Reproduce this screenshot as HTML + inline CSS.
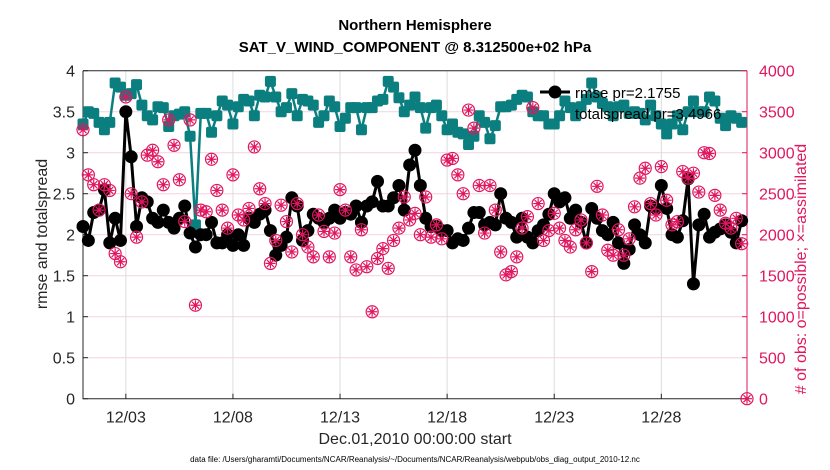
<!DOCTYPE html>
<html><head><meta charset="utf-8"><style>
body{margin:0;background:#fff;}
svg{display:block;font-family:"Liberation Sans",sans-serif;}
</style></head><body>
<svg id="chart" width="830" height="470"></svg>
<script>
const rmse=[2.1,1.93,2.27,2.3,2.55,1.9,2.2,1.93,3.5,2.95,2.1,2.45,2.4,2.2,2.15,2.3,2.15,2.08,2.2,2.35,2.02,1.85,2.0,2.0,2.15,1.9,1.9,2.0,1.87,2.0,1.87,2.2,2.15,2.25,2.3,2.05,1.75,1.87,1.97,2.45,2.35,1.93,2.05,2.25,2.2,2.15,2.2,2.3,2.2,2.27,2.25,2.35,2.15,2.35,2.4,2.65,2.35,2.35,2.45,2.6,2.3,2.85,3.03,2.6,2.2,2.1,2.1,2.05,2.05,1.9,1.95,1.93,2.08,2.27,2.27,2.12,2.15,2.12,2.5,2.2,2.15,1.97,2.2,1.97,1.9,2.05,2.12,2.25,2.5,2.4,2.45,2.2,2.3,2.15,1.9,2.32,2.2,2.05,2.0,2.15,1.9,1.65,1.82,2.12,2.0,1.9,2.35,2.32,2.6,2.32,2.0,1.97,2.17,2.68,1.4,2.12,2.25,1.97,2.03,2.07,2.12,2.03,1.9,2.17,null];
const spread=[3.35,3.5,3.48,3.37,3.28,3.37,3.85,3.8,3.7,3.72,3.83,3.58,3.45,3.4,3.56,3.55,3.32,3.45,3.47,3.5,3.2,2.12,3.48,3.48,3.25,3.45,3.63,3.58,3.35,3.56,3.65,3.63,3.45,3.7,3.68,3.87,3.68,3.5,3.55,3.72,3.45,3.65,3.63,3.58,3.37,3.45,3.63,3.56,3.32,3.42,3.55,3.55,3.28,3.55,3.55,3.63,3.65,3.87,3.8,3.67,3.5,3.58,3.68,3.55,3.3,3.55,3.58,3.45,3.28,3.35,3.25,3.23,3.1,3.2,3.45,3.37,3.17,3.33,3.56,3.56,3.58,3.65,3.7,3.68,3.5,3.45,3.45,3.35,3.35,3.45,3.63,3.55,3.45,3.56,3.65,3.85,3.68,3.6,3.56,3.45,3.56,3.58,3.48,3.5,3.48,3.4,3.58,3.45,3.35,3.23,3.35,3.45,3.28,3.5,3.63,3.5,3.5,3.68,3.63,3.42,3.33,3.45,3.42,3.37,null];
const nobs=[3280,2730,2610,2300,2610,2540,1770,1670,3680,2500,1970,2400,2970,3030,2890,2610,3400,3090,2670,2160,3400,1140,2300,2280,2920,2540,2300,2080,2730,2240,2180,2320,3070,2560,2380,1650,1930,2360,2160,1790,2380,2000,1850,1730,2240,2040,1730,2020,2550,2300,1730,1570,2060,1610,1060,1710,1830,1590,1930,2080,2460,2180,2260,2000,2460,1970,2120,1950,2910,2930,2730,2500,3520,3300,2600,2020,2600,2300,1790,1510,1550,1730,2080,2220,3550,2380,1930,2050,2260,2080,1930,1850,2060,2180,1900,1550,2590,2240,1810,1750,2060,1750,1950,2340,2690,2810,2380,2240,2830,2420,2120,2160,2770,2690,2750,2520,3000,2990,2480,2300,2140,2080,2200,1890,0];
const dayTicks=[2,7,12,17,22,27];
const dayLabels=["12/03","12/08","12/13","12/18","12/23","12/28"];
const leftTicks=[0,0.5,1,1.5,2,2.5,3,3.5,4];
const rightTicks=[0,500,1000,1500,2000,2500,3000,3500,4000];

const L=83,R=747,T=70.7,B=398.7;
const X=d=>L+(d/31)*(R-L);
const Y=v=>B-(v/4)*(B-T);
const YR=v=>B-(v/4000)*(B-T);
const svg=document.getElementById('chart');
const NS='http://www.w3.org/2000/svg';
function mk(tag,attrs,parent){const e=document.createElementNS(NS,tag);for(const k in attrs)e.setAttribute(k,attrs[k]);(parent||svg).appendChild(e);return e;}
const PINK='#e0165f';

leftTicks.forEach((t,i)=>{if(t>0&&t<4){const g=mk('line',{x1:L,x2:R,y1:Y(t),y2:Y(t),stroke:'#f2d3df','stroke-width':1});

}});
dayTicks.forEach(d=>{const g=mk('line',{x1:X(d),x2:X(d),y1:T,y2:B,stroke:'#dcdcdc','stroke-width':1});

});

const ax=mk('path',{d:`M${L},${T}V${B}H${R}M${L},${T}H${R}`,stroke:'#262626',fill:'none','stroke-width':1});


const rax=mk('line',{x1:R,x2:R,y1:T,y2:B,stroke:PINK,'stroke-width':1});



leftTicks.forEach(t=>{
 mk('line',{x1:L,x2:L+5,y1:Y(t),y2:Y(t),stroke:'#262626'});
 const tx=mk('text',{x:L-8,y:Y(t)+6,'text-anchor':'end','font-size':16,fill:'#262626'});tx.textContent=t;
 
 
});
rightTicks.forEach(t=>{
 mk('line',{x1:R,x2:R-5,y1:YR(t),y2:YR(t),stroke:PINK});
 const tx=mk('text',{x:R+12,y:YR(t)+6,'font-size':16,fill:PINK});tx.textContent=t;
 
 
});
dayTicks.forEach((d,i)=>{
 mk('line',{x1:X(d),x2:X(d),y1:B,y2:B-5,stroke:'#262626'});
 const tx=mk('text',{x:X(d),y:B+24,'text-anchor':'middle','font-size':16,fill:'#262626'});tx.textContent=dayLabels[i];
 
 
});

function pts(arr){return arr.map((v,i)=>v==null?null:[X(i/4),Y(v)]).filter(p=>p);}
const sp=pts(spread);
const sl=mk('polyline',{points:sp.map(p=>p.join(',')).join(' '),fill:'none',stroke:'#0b7f7f','stroke-width':2.5});


sp.forEach(p=>{const r=mk('rect',{x:p[0]-5.5,y:p[1]-5.5,width:11,height:11,rx:2,fill:'#0b7f7f'});

});
const rp=pts(rmse);
const rl=mk('polyline',{points:rp.map(p=>p.join(',')).join(' '),fill:'none',stroke:'#000','stroke-width':3});


rp.forEach(p=>{const c=mk('circle',{cx:p[0],cy:p[1],r:6.5,fill:'#000'});

});
nobs.forEach((v,i)=>{
 const x=X(i/4),y=YR(v);
 const g=mk('g',{stroke:PINK,fill:'none','stroke-width':1.2});
 
 
 mk('circle',{cx:x,cy:y,r:6},g);
 mk('path',{d:`M${x-5},${y}H${x+5}M${x},${y-5}V${y+5}M${x-3.5},${y-3.5}L${x+3.5},${y+3.5}M${x-3.5},${y+3.5}L${x+3.5},${y-3.5}`},g);
});

const lg=mk('g',{});


mk('line',{x1:540,x2:570,y1:92,y2:92,stroke:'#000','stroke-width':3},lg);
mk('circle',{cx:555,cy:92,r:6.5,fill:'#000'},lg);
const l1=mk('text',{x:575,y:98,'font-size':15,fill:'#000'},lg);l1.textContent='rmse pr=2.1755';
const l2=mk('text',{x:575,y:119,'font-size':15,fill:'#000'},lg);l2.textContent='totalspread pr=3.4966';

function txt(s,a,name){const t=mk('text',a);t.textContent=s;return t;}
txt('Northern Hemisphere',{x:415,y:30,'text-anchor':'middle','font-size':15,'font-weight':'bold',fill:'#000'},'chart-title');
txt('SAT_V_WIND_COMPONENT @ 8.312500e+02 hPa',{x:415,y:52,'text-anchor':'middle','font-size':15,'font-weight':'bold',fill:'#000'},'chart-subtitle');
txt('rmse and totalspread',{x:0,y:0,transform:'translate(47,234) rotate(-90)','text-anchor':'middle','font-size':16,fill:'#262626'},'y-axis-title');
txt('# of obs: o=possible; \u00d7=assimilated',{x:0,y:0,transform:'translate(806,269) rotate(-90)','text-anchor':'middle','font-size':16,fill:PINK},'right-y-axis-title');
txt('Dec.01,2010 00:00:00 start',{x:415,y:444,'text-anchor':'middle','font-size':16,fill:'#262626'},'x-axis-title');
txt('data file: /Users/gharamti/Documents/NCAR/Reanalysis/~/Documents/NCAR/Reanalysis/webpub/obs_diag_output_2010-12.nc',{x:415,y:462,'text-anchor':'middle','font-size':8,fill:'#000'},'data-file-note');
</script>
</body></html>
